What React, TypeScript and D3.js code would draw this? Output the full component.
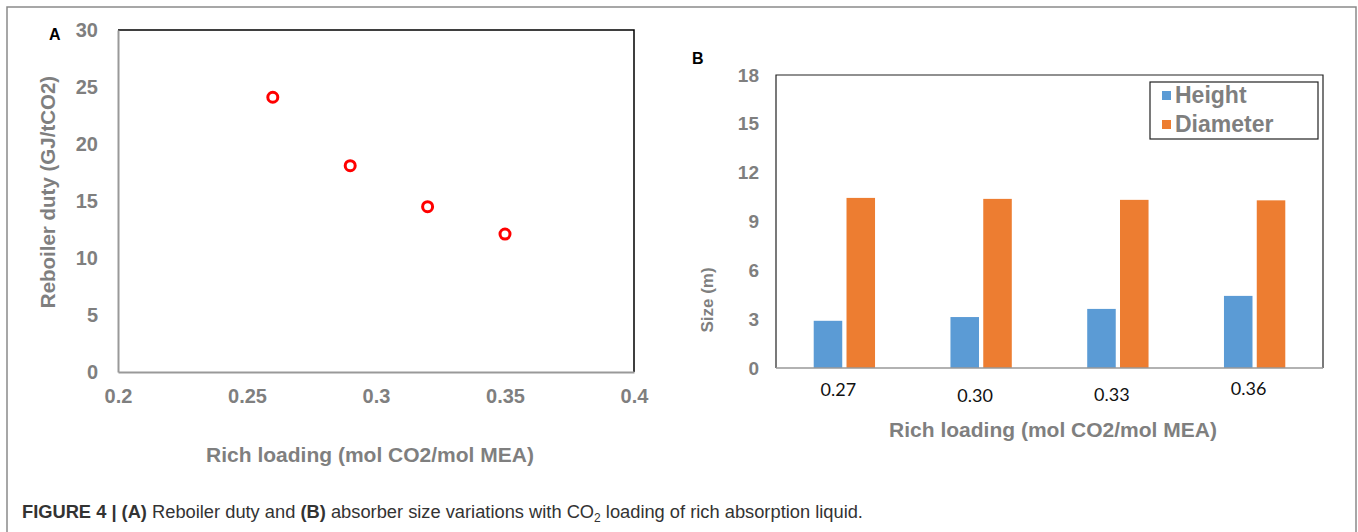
import React, { useEffect, useRef } from 'react';
import * as d3 from 'd3';

// Panel A: reboiler duty vs rich loading
const loadingA = [0.26, 0.29, 0.32, 0.35];
const reboilerDuty = [24.1, 18.1, 14.5, 12.1];
const xTicksA = [0.2, 0.25, 0.3, 0.35, 0.4];
const yTicksA = [0, 5, 10, 15, 20, 25, 30];

// Panel B: absorber size
const loadingB = ['0.27', '0.30', '0.33', '0.36'];
const heightVals = [2.9, 3.13, 3.63, 4.43];
const diameterVals = [10.45, 10.39, 10.33, 10.3];
const yTicksB = [0, 3, 6, 9, 12, 15, 18];
const seriesB = ['Height', 'Diameter'];

const GRAY = '#7f7f7f';
const NARROW = '"Liberation Sans Narrow", "Arial Narrow", "Liberation Sans", Arial, sans-serif';
const SANS = '"Liberation Sans", Arial, sans-serif';

const App = () => {
  const svgRef = useRef<SVGSVGElement>(null);

  useEffect(() => {
    const svg = d3.select(svgRef.current);
    svg.selectAll('*').remove();

    // outer figure frame
    svg.append('path')
      .attr('d', 'M7,532 V7 H1356 V532')
      .attr('fill', 'none')
      .attr('stroke', '#8a8a8a')
      .attr('stroke-width', 1.5);

    // ---------- Panel A ----------
    const a = { left: 118, right: 634, top: 30, bottom: 372 };
    const xA = d3.scaleLinear().domain([0.2, 0.4]).range([a.left, a.right]);
    const yA = d3.scaleLinear().domain([0, 30]).range([a.bottom, a.top]);

    const gA = svg.append('g');
    // top and right frame lines (black)
    gA.append('path')
      .attr('d', `M${a.left},${a.top} H${a.right} V${a.bottom}`)
      .attr('fill', 'none').attr('stroke', '#000').attr('stroke-width', 1.5);

    const axA = gA.append('g').attr('transform', `translate(${a.left},0)`)
      .call(d3.axisLeft(yA).tickValues(yTicksA).tickSize(0).tickPadding(20));
    const axAx = gA.append('g').attr('transform', `translate(0,${a.bottom})`)
      .call(d3.axisBottom(xA).tickValues(xTicksA).tickSize(0).tickPadding(17)
        .tickFormat(d => String(d)));
    [axA, axAx].forEach(ax => {
      ax.select('.domain').attr('stroke', '#999').attr('stroke-width', 2);
      ax.selectAll('text')
        .attr('fill', GRAY)
        .style('font-family', NARROW)
        .style('font-weight', 'bold')
        .style('font-size', '20px');
    });

    gA.selectAll('circle.pt')
      .data(loadingA)
      .join('circle')
      .attr('class', 'pt')
      .attr('cx', d => xA(d))
      .attr('cy', (d, i) => yA(reboilerDuty[i]))
      .attr('r', 5)
      .attr('fill', 'none')
      .attr('stroke', '#ff0000')
      .attr('stroke-width', 3);

    gA.append('text')
      .attr('transform', `translate(55,192) rotate(-90)`)
      .attr('text-anchor', 'middle')
      .attr('fill', GRAY)
      .style('font-family', SANS)
      .style('font-weight', 'bold')
      .style('font-size', '20.5px')
      .text('Reboiler duty (GJ/tCO2)');

    gA.append('text')
      .attr('x', 370).attr('y', 462)
      .attr('text-anchor', 'middle')
      .attr('fill', GRAY)
      .style('font-family', NARROW)
      .style('font-weight', 'bold')
      .style('font-size', '21px')
      .text('Rich loading (mol CO2/mol MEA)');

    gA.append('text')
      .attr('x', 49).attr('y', 40)
      .attr('fill', '#000')
      .style('font-family', SANS)
      .style('font-weight', 'bold')
      .style('font-size', '16px')
      .text('A');

    // ---------- Panel B ----------
    const b = { left: 776, right: 1323, top: 75, bottom: 368 };
    const xB = d3.scaleBand().domain(loadingB).range([b.left, b.right]);
    const xSub = d3.scaleBand().domain(seriesB).range([0, xB.bandwidth()]).paddingInner(0.13).paddingOuter(1.15);
    const yB = d3.scaleLinear().domain([0, 18]).range([b.bottom, b.top]);
    const colors = { Height: '#5b9bd5', Diameter: '#ed7d31' };

    const gB = svg.append('g');
    gB.append('path')
      .attr('d', `M${b.left},${b.bottom} V${b.top} H${b.right} V${b.bottom}`)
      .attr('fill', 'none').attr('stroke', '#222').attr('stroke-width', 1.2);

    const series = [heightVals, diameterVals];
    seriesB.forEach((s, si) => {
      gB.selectAll(`rect.s${si}`)
        .data(loadingB)
        .join('rect')
        .attr('class', `s${si}`)
        .attr('x', d => (xB(d) as number) + (xSub(s) as number))
        .attr('width', xSub.bandwidth())
        .attr('y', (d, i) => yB(series[si][i]))
        .attr('height', (d, i) => b.bottom - yB(series[si][i]))
        .attr('fill', colors[s]);
    });

    const axB = gB.append('g').attr('transform', `translate(${b.left},0)`)
      .call(d3.axisLeft(yB).tickValues(yTicksB).tickSize(0).tickPadding(17));
    axB.select('.domain').remove();
    axB.selectAll('text')
      .attr('fill', GRAY)
      .style('font-family', NARROW)
      .style('font-weight', 'bold')
      .style('font-size', '19px');

    gB.append('line')
      .attr('x1', b.left).attr('x2', b.right)
      .attr('y1', b.bottom).attr('y2', b.bottom)
      .attr('stroke', '#999').attr('stroke-width', 1.5);

    const stagger = [0, 6, 5, -1];
    gB.selectAll('text.cat')
      .data(loadingB)
      .join('text')
      .attr('class', 'cat')
      .attr('x', d => (xB(d) as number) + xB.bandwidth() / 2 - 6)
      .attr('y', (d, i) => 396 + stagger[i])
      .attr('text-anchor', 'middle')
      .attr('fill', '#111')
      .style('font-family', 'Lato, "Open Sans", sans-serif')
      .style('font-size', '18px')
      .text(d => d);

    gB.append('text')
      .attr('transform', `translate(713,300) rotate(-90)`)
      .attr('text-anchor', 'middle')
      .attr('fill', GRAY)
      .style('font-family', SANS)
      .style('font-weight', 'bold')
      .style('font-size', '17px')
      .text('Size (m)');

    gB.append('text')
      .attr('x', 1053).attr('y', 437)
      .attr('text-anchor', 'middle')
      .attr('fill', GRAY)
      .style('font-family', NARROW)
      .style('font-weight', 'bold')
      .style('font-size', '21px')
      .text('Rich loading (mol CO2/mol MEA)');

    gB.append('text')
      .attr('x', 692).attr('y', 64)
      .attr('fill', '#000')
      .style('font-family', SANS)
      .style('font-weight', 'bold')
      .style('font-size', '16px')
      .text('B');

    // legend
    const lg = gB.append('g').attr('transform', 'translate(1150,82)');
    lg.append('rect')
      .attr('width', 168).attr('height', 57)
      .attr('fill', '#fff').attr('stroke', '#222').attr('stroke-width', 1.2);
    seriesB.forEach((s, i) => {
      lg.append('rect')
        .attr('x', 12).attr('y', 9 + i * 29)
        .attr('width', 9).attr('height', 9)
        .attr('fill', colors[s]);
      lg.append('text')
        .attr('x', 25).attr('y', 21 + i * 29)
        .attr('fill', GRAY)
        .style('font-family', NARROW)
        .style('font-weight', 'bold')
        .style('font-size', '23px')
        .text(s);
    });

    // caption
    const cap = svg.append('text')
      .attr('x', 22).attr('y', 518)
      .attr('fill', '#333')
      .style('font-family', NARROW)
      .style('font-size', '18.3px');
    cap.append('tspan').style('font-weight', 'bold').text('FIGURE 4 | (A)');
    cap.append('tspan').text(' Reboiler duty and ');
    cap.append('tspan').style('font-weight', 'bold').text('(B)');
    cap.append('tspan').text(' absorber size variations with CO');
    cap.append('tspan').attr('dy', 4).style('font-size', '12px').text('2');
    cap.append('tspan').attr('dy', -4).text(' loading of rich absorption liquid.');
  }, []);

  return (
    <svg
      ref={svgRef}
      width={1358}
      height={532}
      style={{ position: 'absolute', left: 0, top: 0, background: '#fff' }}
    />
  );
};

export default App;
